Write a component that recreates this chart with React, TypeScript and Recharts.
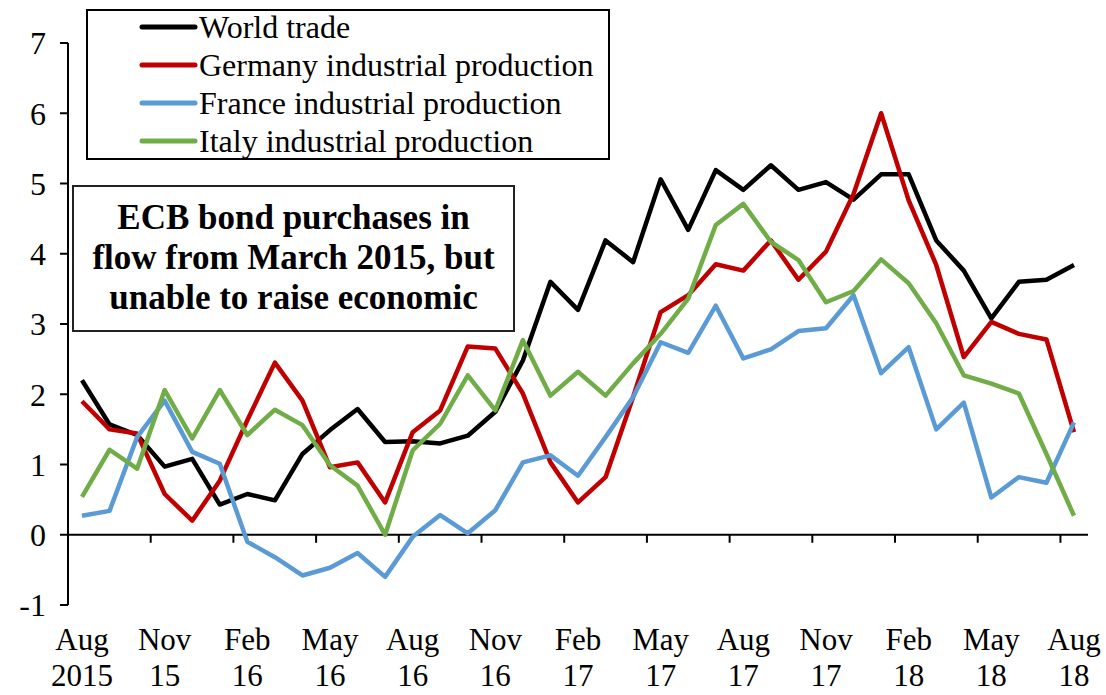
import { LineChart, Line, XAxis, YAxis, ReferenceLine, Legend } from "recharts";

const FONT = '"Liberation Serif", "Times New Roman", serif';

const months = [
  "Aug 2015", "Sep 15", "Oct 15", "Nov 15", "Dec 15",
  "Jan 16", "Feb 16", "Mar 16", "Apr 16", "May 16", "Jun 16", "Jul 16", "Aug 16", "Sep 16", "Oct 16", "Nov 16", "Dec 16",
  "Jan 17", "Feb 17", "Mar 17", "Apr 17", "May 17", "Jun 17", "Jul 17", "Aug 17", "Sep 17", "Oct 17", "Nov 17", "Dec 17",
  "Jan 18", "Feb 18", "Mar 18", "Apr 18", "May 18", "Jun 18", "Jul 18", "Aug 18",
];

const worldTrade = [
  2.2, 1.57, 1.42, 0.97, 1.08, 0.43, 0.58, 0.49, 1.15, 1.49, 1.79, 1.32, 1.33, 1.3, 1.41, 1.75, 2.48, 3.6, 3.2,
  4.19, 3.88, 5.06, 4.34, 5.19, 4.91, 5.26, 4.91, 5.02, 4.77, 5.13, 5.13, 4.19, 3.76, 3.08, 3.6, 3.63, 3.84,
];
const germany = [
  1.9, 1.5, 1.44, 0.58, 0.2, 0.77, 1.63, 2.45, 1.91, 0.96, 1.03, 0.46, 1.46, 1.77, 2.68, 2.65, 2.01, 1.03, 0.46,
  0.82, 1.96, 3.17, 3.41, 3.85, 3.76, 4.19, 3.63, 4.03, 4.85, 6.0, 4.76, 3.84, 2.53, 3.03, 2.86, 2.78, 1.46,
];
const france = [
  0.27, 0.34, 1.39, 1.91, 1.18, 1.01, -0.1, -0.32, -0.58, -0.47, -0.26, -0.6, -0.03, 0.28, 0.02, 0.35, 1.03, 1.13,
  0.84, 1.39, 1.96, 2.74, 2.59, 3.26, 2.51, 2.64, 2.9, 2.94, 3.41, 2.3, 2.67, 1.5, 1.88, 0.53, 0.82, 0.74, 1.6,
];
const italy = [
  0.54, 1.21, 0.94, 2.06, 1.37, 2.06, 1.42, 1.78, 1.56, 0.99, 0.7, 0.0, 1.2, 1.58, 2.27, 1.77, 2.77, 1.98, 2.32,
  1.98, 2.44, 2.86, 3.36, 4.41, 4.71, 4.17, 3.91, 3.31, 3.47, 3.92, 3.58, 3.01, 2.27, 2.15, 2.01, 1.15, 0.27,
];

const yTicks = [-1, 0, 1, 2, 3, 4, 5, 6, 7];

const series = [
  { key: "world", name: "World trade", color: "#000000" },
  { key: "germany", name: "Germany industrial production", color: "#C00000" },
  { key: "france", name: "France industrial production", color: "#5B9BD5" },
  { key: "italy", name: "Italy industrial production", color: "#70AD47" },
];

const data = months.map((month, i) => ({
  month,
  world: worldTrade[i],
  germany: germany[i],
  france: france[i],
  italy: italy[i],
}));

// two-line month / year label under the plot
function MonthTick({ x, y, payload }: any) {
  const [mon, yr] = String(payload.value).split(" ");
  return (
    <text x={x} y={y} textAnchor="middle" fontSize={31} fill="#000" fontFamily={FONT}>
      <tspan x={x} dy={45}>{mon}</tspan>
      <tspan x={x} dy={36}>{yr}</tspan>
    </text>
  );
}

// horizontal axis drawn at zero, with a tick between categories every quarter
function ZeroAxis(props: any) {
  const { x1, x2, y1 } = props;
  const left = Math.min(x1, x2);
  const right = Math.max(x1, x2);
  const step = (right - left) / months.length;
  const marks = [];
  for (let k = 3; k < months.length; k += 3) {
    const x = left + k * step;
    marks.push(<line key={k} x1={x} x2={x} y1={y1} y2={y1 + 8} stroke="#000" strokeWidth={2} />);
  }
  return (
    <g>
      <line x1={left} x2={right} y1={y1} y2={y1} stroke="#000" strokeWidth={2} />
      {marks}
    </g>
  );
}

function LegendBox({ payload }: any) {
  const items = [...(payload || [])].sort(
    (a: any, b: any) =>
      series.findIndex((s) => s.name === a.value) - series.findIndex((s) => s.name === b.value)
  );
  return (
    <div
      style={{
        width: 524,
        height: 151,
        boxSizing: "border-box",
        border: "2px solid #000",
        background: "#fff",
        fontFamily: FONT,
        fontSize: 32,
        color: "#000",
        textAlign: "left",
      }}
    >
      <div style={{ marginTop: -3 }}>
        {items.map((item: any) => (
          <div key={item.value} style={{ display: "flex", alignItems: "center", height: 38 }}>
            <svg width={111} height={10} style={{ flex: "none" }}>
              <line x1={54} x2={107} y1={5} y2={5} stroke={item.color} strokeWidth={5} strokeLinecap="round" />
            </svg>
            <span style={{ whiteSpace: "nowrap", lineHeight: "38px" }}>{item.value}</span>
          </div>
        ))}
      </div>
    </div>
  );
}

export default function App() {
  return (
    <div
      style={{
        position: "absolute",
        left: 0,
        top: 0,
        width: 1106,
        height: 695,
        background: "#fff",
        fontFamily: FONT,
      }}
    >
      <LineChart width={1106} height={695} data={data} margin={{ top: 43, right: 18, left: 0, bottom: 0 }}>
        <XAxis
          dataKey="month"
          height={90}
          interval={2}
          axisLine={false}
          tickLine={false}
          tickSize={0}
          tickMargin={0}
          padding={{ left: 14, right: 14 }}
          tick={<MonthTick />}
        />
        <YAxis
          domain={[-1, 7]}
          ticks={yTicks}
          interval={0}
          width={68}
          tickSize={8}
          tickMargin={14}
          axisLine={{ stroke: "#000", strokeWidth: 2 }}
          tickLine={{ stroke: "#000", strokeWidth: 2 }}
          tick={{ fontSize: 32, fill: "#000", fontFamily: FONT }}
        />
        <ReferenceLine y={0} shape={<ZeroAxis />} />
        {series.map((s) => (
          <Line
            key={s.key}
            type="linear"
            dataKey={s.key}
            name={s.name}
            stroke={s.color}
            strokeWidth={4.5}
            strokeLinejoin="round"
            dot={false}
            activeDot={false}
            isAnimationActive={false}
          />
        ))}
        <Legend
          layout="horizontal"
          align="center"
          verticalAlign="middle"
          content={<LegendBox />}
          wrapperStyle={{ position: "absolute", left: 86, top: 9, width: 524, height: 151 }}
        />
      </LineChart>
      <div
        style={{
          position: "absolute",
          left: 72,
          top: 185,
          width: 443,
          height: 147,
          boxSizing: "border-box",
          border: "2px solid #222",
          background: "#fff",
          paddingTop: 11,
          textAlign: "center",
          fontWeight: "bold",
          fontSize: 35,
          lineHeight: "40px",
          color: "#000",
        }}
      >
        <div>ECB bond purchases in</div>
        <div>flow from March 2015, but</div>
        <div>unable to raise economic</div>
      </div>
    </div>
  );
}
